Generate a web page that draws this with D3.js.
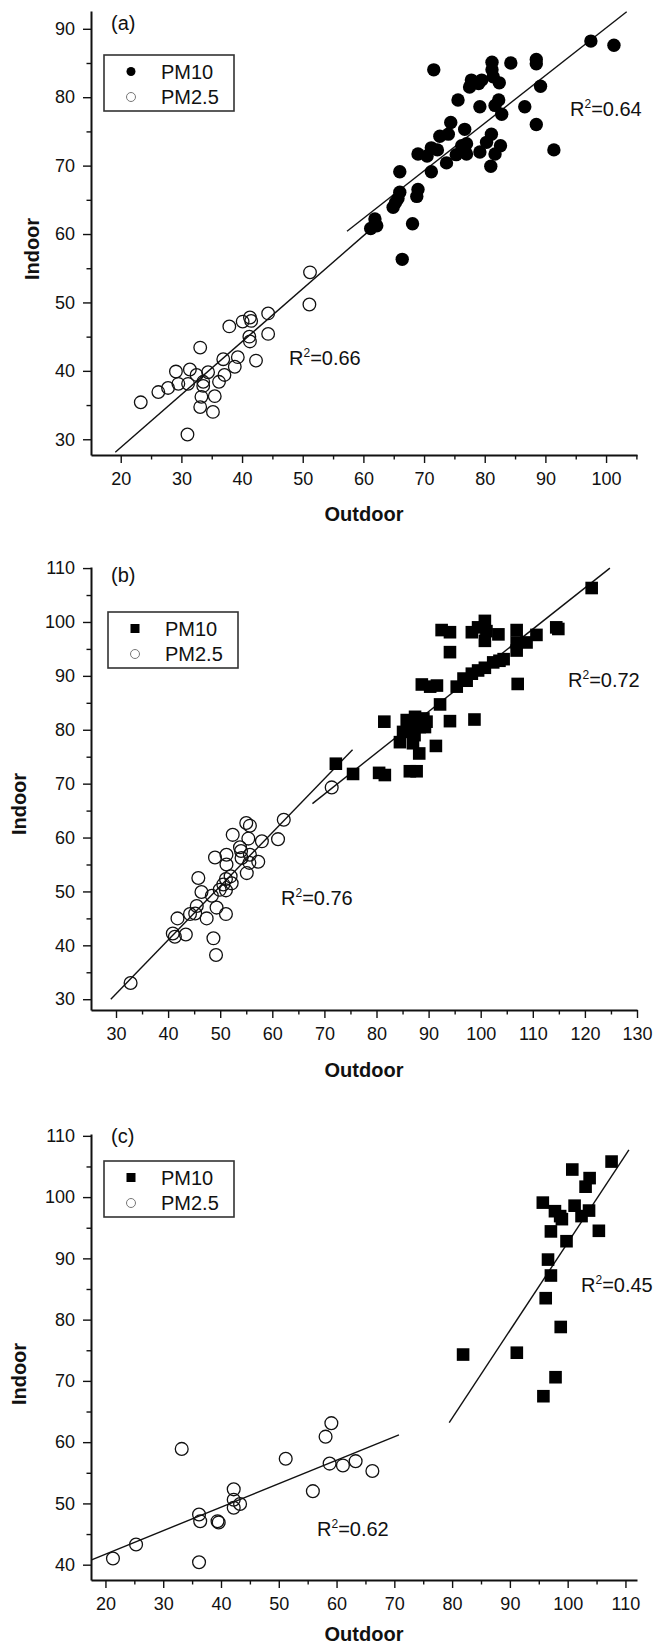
<!DOCTYPE html>
<html>
<head>
<meta charset="utf-8">
<script src="https://cdn.jsdelivr.net/npm/d3@7"></script>
<style>
  body { margin: 0; background: #fff; }
  text { font-family: "Liberation Sans", Arial, sans-serif; fill: #111; }
</style>
</head>
<body>
<svg id="fig" width="670" height="1646"></svg>
<script>
// ---- data: [outdoor, indoor] ----
var a10 = [[97.5,88.2],[101.3,87.6],[71.6,84.0],[81.2,85.1],[81.2,84.0],[84.3,85.0],[88.5,85.5],[88.5,84.9],[89.2,81.6],[77.8,82.5],
  [77.5,81.5],[79.5,82.5],[79.0,82.0],[81.4,83.0],[82.4,82.1],[75.6,79.6],[79.2,78.6],[82.3,79.6],[81.7,78.8],[82.8,77.5],
  [86.6,78.6],[88.5,76.0],[91.4,72.3],[74.4,76.3],[76.7,75.3],[72.6,74.3],[74.0,74.6],[71.2,72.6],[69.0,71.7],[70.5,71.4],
  [72.2,72.3],[73.7,70.4],[71.2,69.1],[75.3,71.6],[77.0,71.7],[76.2,72.9],[77.0,73.2],[79.2,72.0],[81.1,74.6],[80.3,73.4],
  [82.6,72.9],[81.7,71.7],[81.0,69.9],[66.0,69.1],[66.0,66.1],[65.7,65.2],[64.9,63.9],[65.3,64.6],[69.0,66.5],[68.8,65.5],
  [61.9,62.2],[61.2,60.8],[62.2,61.2],[68.1,61.5],[66.4,56.3]];
var a25 = [[51.1,49.7],[51.2,54.4],[23.3,35.4],[26.2,36.9],[27.8,37.5],[29.5,38.1],[29.1,39.9],[31.4,40.2],[31.1,38.1],[32.5,39.4],
  [33.1,43.4],[31.0,30.7],[33.1,34.7],[35.2,34.0],[33.3,36.2],[33.6,37.8],[33.6,38.4],[34.4,39.8],[35.5,36.3],[36.2,38.4],
  [37.1,39.4],[36.9,41.7],[38.8,40.6],[39.3,42.0],[37.9,46.5],[40.1,47.2],[41.3,47.8],[41.5,47.3],[41.2,45.0],[41.3,44.3],
  [42.3,41.5],[44.3,48.4],[44.3,45.4]];
var aFit10 = [[57.3,60.4],[103.4,92.5]];
var aFit25 = [[19.1,28.1],[61.5,60.9]];

var b10 = [[121.3,106.3],[114.5,99.0],[114.9,98.7],[110.7,97.6],[106.9,98.5],[106.9,96.2],[108.8,96.2],[106.9,94.7],[103.6,92.8],[104.4,93.1],
  [102.4,92.5],[100.8,91.5],[99.5,91.0],[98.3,90.4],[96.7,89.5],[95.4,88.0],[97.3,89.1],[92.2,84.7],[107.1,88.5],[92.5,98.5],
  [94.1,98.1],[94.1,94.4],[98.3,98.1],[99.5,99.0],[100.8,100.2],[101.1,98.3],[100.8,96.5],[103.4,97.7],[88.7,88.4],[90.3,88.0],
  [91.6,88.2],[94.1,81.6],[98.8,81.9],[81.5,81.5],[85.8,81.8],[87.4,82.4],[89.0,82.1],[86.4,80.5],[88.3,80.5],[85.1,79.6],
  [87.3,79.0],[84.5,77.7],[87.0,77.5],[89.6,81.5],[89.3,80.5],[91.4,77.0],[88.2,75.6],[87.7,72.3],[86.4,72.3],[80.5,72.0],
  [81.6,71.6],[75.5,71.8],[72.2,73.7]];
var b25 = [[32.8,33.0],[40.9,42.2],[41.3,41.6],[43.4,42.0],[41.8,45.0],[44.2,45.8],[45.2,45.9],[45.5,47.3],[47.4,45.0],[49.3,47.0],
  [48.7,41.3],[49.2,38.2],[51.1,45.8],[45.8,52.5],[46.4,49.9],[48.4,49.2],[49.0,56.3],[51.2,56.8],[51.2,55.0],[51.1,52.3],
  [52.2,51.5],[50.6,51.3],[49.9,50.3],[51.1,50.2],[52.4,60.5],[55.1,53.4],[54.1,56.2],[55.6,55.3],[57.3,55.5],[53.8,58.2],
  [55.4,59.8],[58.0,59.3],[55.7,56.8],[61.1,59.7],[55.0,62.7],[55.7,62.2],[62.2,63.3],[71.4,69.3],[54.0,57.5],[52.0,52.8]];
var bFit10 = [[67.7,66.3],[124.8,110.0]];
var bFit25 = [[29.0,30.0],[75.4,76.3]];

var c10 = [[107.6,105.8],[100.8,104.5],[103.8,103.1],[103.1,101.7],[95.7,99.1],[97.8,97.7],[98.7,96.9],[99.0,96.4],[101.2,98.6],[102.4,96.9],
  [103.7,97.8],[105.4,94.5],[97.1,94.4],[99.8,92.8],[96.6,89.8],[97.1,87.2],[96.2,83.5],[98.8,78.8],[81.9,74.3],[91.2,74.6],
  [97.9,70.6],[95.8,67.5]];
var c25 = [[21.3,41.0],[25.3,43.3],[33.2,58.9],[36.2,48.2],[36.4,47.1],[36.2,40.4],[39.4,47.1],[39.6,46.9],[42.2,52.3],[42.2,50.6],
  [42.2,49.3],[43.3,49.9],[51.2,57.3],[55.9,52.0],[58.1,60.9],[59.1,63.1],[58.8,56.5],[61.1,56.2],[63.3,56.9],[66.2,55.3]];
var cFit10 = [[79.5,63.2],[110.6,107.7]];
var cFit25 = [[17.6,40.8],[70.8,61.2]];

var aTicksX = [20,30,40,50,60,70,80,90,100];
var aTicksY = [30,40,50,60,70,80,90];
var bTicksX = [30,40,50,60,70,80,90,100,110,120,130];
var bTicksY = [30,40,50,60,70,80,90,100,110];
var cTicksX = [20,30,40,50,60,70,80,90,100,110];
var cTicksY = [40,50,60,70,80,90,100,110];

var seriesNames = ["PM10", "PM2.5"];
var panelTags = ["(a)", "(b)", "(c)"];
var r2Values = [["0.64","0.66"],["0.72","0.76"],["0.45","0.62"]];

// ---- layout ----
var panels = [
  {tag: panelTags[0], p10: a10, p25: a25, f10: aFit10, f25: aFit25, tx: aTicksX, ty: aTicksY, r2: r2Values[0],
   xDom: [15.1, 105.1], yDom: [27.7, 92.6], top: 11, bottom: 455, shape: "circle",
   tagY: 30, r10: [570, 116], r25: [289, 365], leg: [104, 55], titleX: 32, outGap: 66},
  {tag: panelTags[1], p10: b10, p25: b25, f10: bFit10, f25: bFit25, tx: bTicksX, ty: bTicksY, r2: r2Values[1],
   xDom: [25.2, 130], yDom: [28.0, 110.2], top: 567, bottom: 1010, shape: "square",
   tagY: 582, r10: [568, 687], r25: [281, 905], leg: [108, 612], titleX: 19, outGap: 67},
  {tag: panelTags[2], p10: c10, p25: c25, f10: cFit10, f25: cFit25, tx: cTicksX, ty: cTicksY, r2: r2Values[2],
   xDom: [17.5, 112], yDom: [37.5, 110.3], top: 1134, bottom: 1580, shape: "square",
   tagY: 1143, r10: [581, 1292], r25: [317, 1536], leg: [104, 1161], titleX: 19, outGap: 61}
];
var left = 91, right = 637;

var svg = d3.select("#fig");
svg.append("rect").attr("width", 670).attr("height", 1646).attr("fill", "#fff");

panels.forEach(function(p) {
  var x = d3.scaleLinear().domain(p.xDom).range([left, right]);
  var y = d3.scaleLinear().domain(p.yDom).range([p.bottom, p.top]);
  var g = svg.append("g");

  var minorX = d3.range(Math.ceil(p.xDom[0] / 5) * 5, p.xDom[1] + 0.01, 5).filter(v => v % 10 != 0);
  var minorY = d3.range(Math.ceil(p.yDom[0] / 5) * 5, p.yDom[1] + 0.01, 5).filter(v => v % 10 != 0);

  // minor ticks
  g.append("g").attr("transform", "translate(0," + p.bottom + ")")
    .call(d3.axisBottom(x).tickValues(minorX).tickSize(4.5).tickSizeOuter(0).tickFormat(""))
    .call(s => s.select(".domain").remove());
  g.append("g").attr("transform", "translate(" + left + ",0)")
    .call(d3.axisLeft(y).tickValues(minorY).tickSize(4.5).tickSizeOuter(0).tickFormat(""))
    .call(s => s.select(".domain").remove());

  // major ticks
  var xa = g.append("g").attr("transform", "translate(0," + p.bottom + ")")
    .call(d3.axisBottom(x).tickValues(p.tx).tickSize(8).tickSizeOuter(0).tickPadding(9));
  var ya = g.append("g").attr("transform", "translate(" + left + ",0)")
    .call(d3.axisLeft(y).tickValues(p.ty).tickSize(8).tickSizeOuter(0).tickPadding(8));
  [xa, ya].forEach(function(ax) {
    ax.selectAll("text").style("font-size", "18px").attr("fill", "#111");
    ax.select(".domain").attr("stroke", "#111").attr("stroke-width", 2);
  });
  g.selectAll(".tick line").attr("stroke", "#111").attr("stroke-width", 1.4);

  // axis titles
  g.append("text").attr("x", (left + right) / 2).attr("y", p.bottom + p.outGap)
    .attr("text-anchor", "middle").style("font-size", "20px").style("font-weight", "bold").text("Outdoor");
  g.append("text").attr("transform", "translate(" + (p.titleX + 7) + "," + (p.bottom - 206) + ") rotate(-90)")
    .attr("text-anchor", "middle").style("font-size", "20px").style("font-weight", "bold").text("Indoor");

  // fit lines
  var line = d3.line().x(d => x(d[0])).y(d => y(d[1]));
  [p.f10, p.f25].forEach(function(f) {
    g.append("path").attr("d", line(f)).attr("fill", "none").attr("stroke", "#111").attr("stroke-width", 1.4);
  });

  // PM2.5 open circles
  g.append("g").selectAll("circle").data(p.p25).enter().append("circle")
    .attr("cx", d => x(d[0])).attr("cy", d => y(d[1])).attr("r", p.shape == "circle" ? 6.3 : 6.4)
    .attr("fill", "none").attr("stroke", "#111").attr("stroke-width", 1.3);

  // PM10 filled markers
  if (p.shape == "circle") {
    g.append("g").selectAll("circle").data(p.p10).enter().append("circle")
      .attr("cx", d => x(d[0])).attr("cy", d => y(d[1])).attr("r", 6.7).attr("fill", "#000");
  } else {
    g.append("g").selectAll("rect").data(p.p10).enter().append("rect")
      .attr("x", d => x(d[0]) - 6.3).attr("y", d => y(d[1]) - 6.3)
      .attr("width", 12.6).attr("height", 12.6).attr("fill", "#000");
  }

  // panel tag
  g.append("text").attr("x", left + 20).attr("y", p.tagY).style("font-size", "20px").text(p.tag);

  // R^2 labels
  [[p.r10, p.r2[0]], [p.r25, p.r2[1]]].forEach(function(r) {
    var t = g.append("text").attr("x", r[0][0]).attr("y", r[0][1]).style("font-size", "20px");
    t.append("tspan").text("R");
    t.append("tspan").attr("dy", -8).style("font-size", "12px").text("2");
    t.append("tspan").attr("dy", 8).text("=" + r[1]);
  });

  // legend
  var lg = g.append("g").attr("transform", "translate(" + p.leg[0] + "," + p.leg[1] + ")");
  lg.append("rect").attr("width", 130).attr("height", 56).attr("fill", "#fff")
    .attr("stroke", "#333").attr("stroke-width", 1.6);
  if (p.shape == "circle") {
    lg.append("circle").attr("cx", 27).attr("cy", 16.5).attr("r", 4.5).attr("fill", "#000");
  } else {
    lg.append("rect").attr("x", 22.5).attr("y", 12).attr("width", 9).attr("height", 9).attr("fill", "#000");
  }
  lg.append("circle").attr("cx", 27).attr("cy", 42).attr("r", 4.5).attr("fill", "none")
    .attr("stroke", "#777").attr("stroke-width", 1);
  seriesNames.forEach(function(n, i) {
    lg.append("text").attr("x", 57).attr("y", (i == 0 ? 16.5 : 42) + 7).style("font-size", "20px").text(n);
  });
});
</script>
</body>
</html>
